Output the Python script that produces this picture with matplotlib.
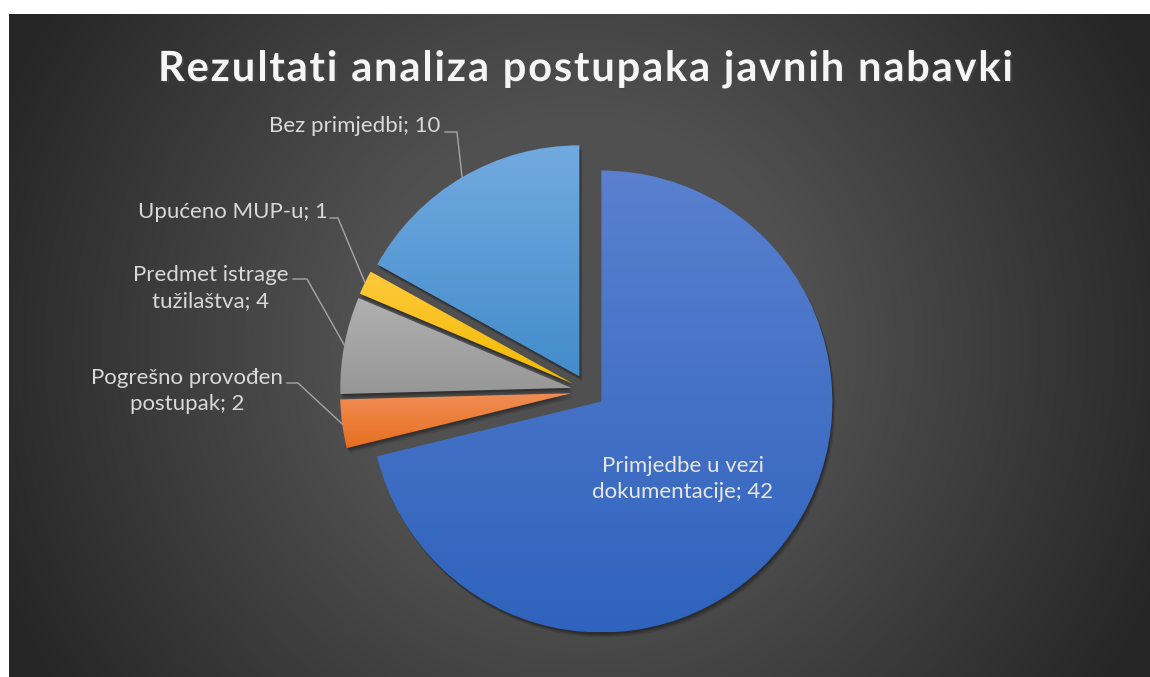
import numpy as np
import matplotlib.pyplot as plt
from matplotlib.patches import Wedge
from matplotlib import patheffects as pe
from matplotlib.colors import to_rgb

# data
title = "Rezultati analiza postupaka javnih nabavki"
names = ["Primjedbe u vezi\ndokumentacije", "Pogrešno provođen\npostupak",
         "Predmet istrage\ntužilaštva", "Upućeno MUP-u", "Bez primjedbi"]
values = [42, 2, 4, 1, 10]
top_colors = ["#5a80cf", "#f08d55", "#b0b0b0", "#ffc93c", "#72aadf"]
bottom_colors = ["#2f63bd", "#e86f1f", "#979797", "#f2bb00", "#438ccb"]

W, H = 1150, 677
FONT = ["Lato", "DejaVu Sans"]

fig = plt.figure(figsize=(W / 100, H / 100), dpi=100, facecolor="white")
ax = fig.add_axes([0, 0, 1, 1])

# pie in pixel coordinates (y grows downward)
cx, cy, R = 588, 391, 231
wedges, _ = ax.pie(values, startangle=-90, counterclock=True, center=(cx, cy),
                   radius=R, explode=[17] * len(values))
ax.set_xlim(0, W)
ax.set_ylim(H, 0)
ax.set_axis_off()

# radial background
x0, y0 = 9, 14
xs = np.arange(x0, W) + 0.5
ys = np.arange(y0, H) + 0.5
gx, gy = np.meshgrid(xs, ys)
d = np.hypot(gx - (x0 + W) / 2, gy - (y0 + H) / 2)
t = np.clip((d - 230) / 400, 0, 1)
g = (80 - 42 * t) / 255
bg = np.dstack([g, g, g])
ax.imshow(bg, extent=(x0, W, H, y0), origin="upper", aspect="auto",
          interpolation="bilinear", zorder=0)

# gradient slices with soft shadows
for i, w in enumerate(wedges):
    w.set_facecolor("none")
    w.set_edgecolor("none")
    (wx, wy), r = w.center, w.r
    for k, (ox, oy, a) in enumerate([(1, 2, 0.18), (2, 3.5, 0.15), (3, 5, 0.1)]):
        ax.add_patch(Wedge((wx + ox, wy + oy), r, w.theta1, w.theta2,
                           facecolor="black", edgecolor="none", alpha=a,
                           zorder=2 + 3 * i))
    ext = w.get_path().get_extents()
    c0, c1 = np.array(to_rgb(top_colors[i])), np.array(to_rgb(bottom_colors[i]))
    f = np.linspace(0, 1, 256)[:, None, None]
    grad = c0 * (1 - f) + c1 * f
    im = ax.imshow(grad, extent=(ext.x0, ext.x1, ext.y1, ext.y0), origin="upper",
                   aspect="auto", interpolation="bilinear", zorder=3 + 3 * i)
    w.set_zorder(3 + 3 * i)
    im.set_clip_path(w)

# labels
lab_color = "#d9d9d9"
label_xy = [(683, 479), (187, 391), (211, 288), (233, 212), (355, 126)]
elbows = [None, ((287, 383), (298, 383)), ((293, 279), (307, 279)),
          ((330, 218), (338, 218)), ((445, 132), (457, 132))]
for i, w in enumerate(wedges):
    txt = f"{names[i]}; {values[i]}"
    ax.text(label_xy[i][0], label_xy[i][1], txt, ha="center", va="center",
            fontsize=16, family=FONT, color="#e6e6e6" if i == 0 else lab_color,
            linespacing=1.35, zorder=30)
    if elbows[i] is not None:
        thm = np.deg2rad((w.theta1 + w.theta2) / 2)
        px = w.center[0] + w.r * np.cos(thm)
        py = w.center[1] + w.r * np.sin(thm)
        (a1, b1), (a2, b2) = elbows[i]
        ax.plot([a1, a2, px], [b1, b2, py], color="#a6a6a6", lw=1, zorder=29)

# title with letter spacing
rend = fig.canvas.get_renderer()
tkw = dict(fontsize=30, fontweight="bold", family=FONT)


def width(s):
    tt = ax.text(0, 0, s, **tkw)
    bw = tt.get_window_extent(rend).width
    tt.remove()
    return bw


left, right, base = 158, 1013, 81
gap = (right - left - width(title)) / (len(title) - 1)
for i, ch in enumerate(title):
    if ch == " ":
        continue
    ax.text(left + width(title[:i + 1]) + i * gap, base, ch, ha="right",
            va="baseline", color="#f5f5f5", zorder=40,
            path_effects=[pe.SimplePatchShadow(offset=(1.5, -1.5), alpha=0.6),
                          pe.Normal()], **tkw)

ax.set_xlim(0, W)
ax.set_ylim(H, 0)
fig.savefig("out.png", dpi=100, facecolor="white")
